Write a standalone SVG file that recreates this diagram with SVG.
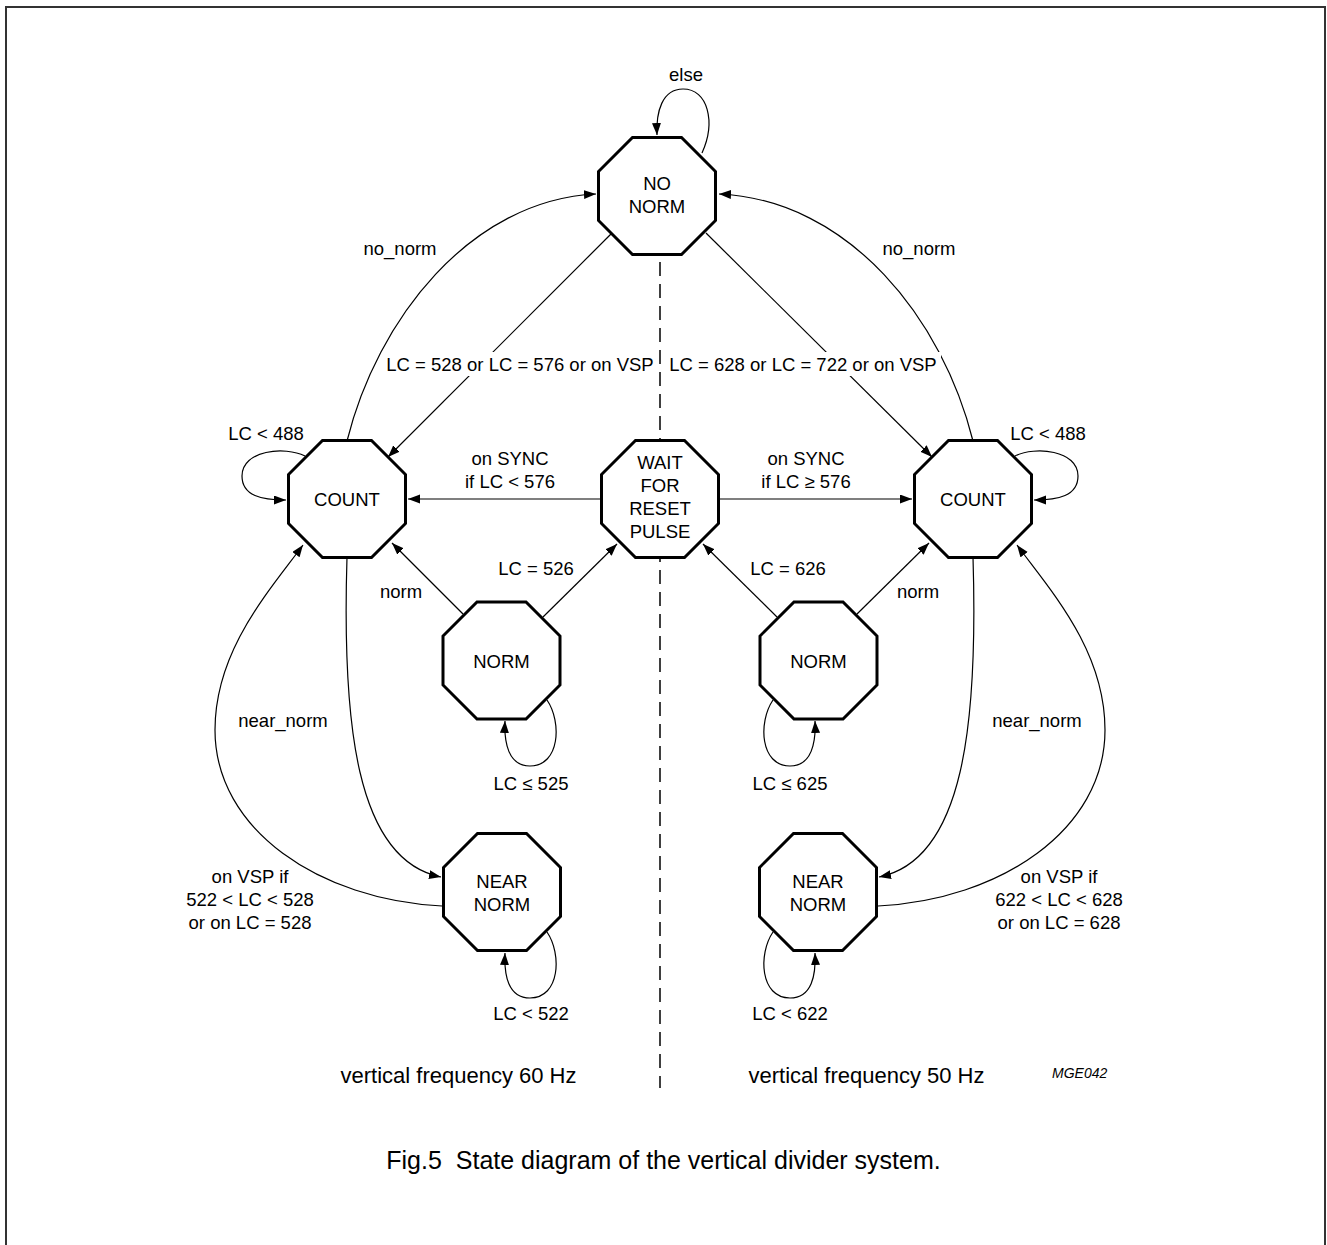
<svg xmlns="http://www.w3.org/2000/svg" width="1327" height="1245" viewBox="0 0 1327 1245">
<defs>
<marker id="ah" markerUnits="userSpaceOnUse" markerWidth="13" markerHeight="10" refX="12" refY="4.5" orient="auto">
<path d="M0,0 L12,4.5 L0,9 z" fill="#000"/>
</marker>
<polygon id="oct" points="-24.5,-58.5 24.5,-58.5 58.5,-24.5 58.5,24.5 24.5,58.5 -24.5,58.5 -58.5,24.5 -58.5,-24.5"/>
</defs>
<style>
.n use{fill:#fff;stroke:#000;stroke-width:3}
text{font-family:"Liberation Sans",Arial,sans-serif;font-size:18.5px;fill:#000;text-anchor:middle}
.c path{fill:none;stroke:#000;stroke-width:1.2;marker-end:url(#ah)}
.bg{fill:#fff}
.big{font-size:22px}
</style>
<rect x="6" y="7" width="1319" height="1260" fill="#fff" stroke="#333" stroke-width="2"/>

<g id="connectors" class="c">
<path d="M702,153 C716,122 708,89 683,89 C662,89 656,112 657,135"/>
<path d="M347,441 C377,320 470,200 596,194"/>
<path d="M973,441 C943,320 850,200 719,194"/>
<path d="M611,234 L388,457"/>
<path d="M706,233 L932,457"/>
<path d="M601,499 L408,499"/>
<path d="M718,499 L912,499"/>
<path d="M463,614 L392,543"/>
<path d="M543,617 L617,544"/>
<path d="M777,617 L703,544"/>
<path d="M857,614 L929,543"/>
<path d="M547,700 C562,722 560,766 530,766 C508,766 504,742 505,721"/>
<path d="M773,700 C758,722 760,766 790,766 C812,766 816,742 815,721"/>
<path d="M347,557 C342,720 355,860 441,877"/>
<path d="M442,906 C320,900 215,830 215,730 C215,650 270,590 303,545"/>
<path d="M973,557 C978,720 965,860 879,877"/>
<path d="M878,906 C1000,900 1105,830 1105,730 C1105,650 1050,590 1017,545"/>
<path d="M547,932 C562,954 560,998 530,998 C508,998 504,975 505,953"/>
<path d="M773,932 C758,954 760,998 790,998 C812,998 816,975 815,953"/>
<path d="M305,456 C285,446 242,450 242,476 C242,496 262,500 286,500"/>
<path d="M1015,456 C1035,446 1078,450 1078,476 C1078,496 1058,500 1034,500"/>
</g>

<rect class="bg" x="383" y="352" width="274" height="24"/>
<rect class="bg" x="666" y="352" width="275" height="24"/>

<line id="divider" x1="660" y1="262" x2="660" y2="1088" stroke="#000" stroke-width="1.5" stroke-dasharray="14 8"/>

<g id="node-nonorm" class="n"><use href="#oct" x="657" y="196"/><text x="657" y="190">NO</text><text x="657" y="213">NORM</text></g>
<g id="node-count-l" class="n"><use href="#oct" x="347" y="499"/><text x="347" y="506">COUNT</text></g>
<g id="node-wait" class="n"><use href="#oct" x="660" y="499"/><text x="660" y="469">WAIT</text><text x="660" y="492">FOR</text><text x="660" y="515">RESET</text><text x="660" y="538">PULSE</text></g>
<g id="node-count-r" class="n"><use href="#oct" x="973" y="499"/><text x="973" y="506">COUNT</text></g>
<g id="node-norm-l" class="n"><use href="#oct" x="501.5" y="660.5"/><text x="501.5" y="668">NORM</text></g>
<g id="node-norm-r" class="n"><use href="#oct" x="818.5" y="660.5"/><text x="818.5" y="668">NORM</text></g>
<g id="node-nearnorm-l" class="n"><use href="#oct" x="502" y="892"/><text x="502" y="888">NEAR</text><text x="502" y="911">NORM</text></g>
<g id="node-nearnorm-r" class="n"><use href="#oct" x="818" y="892"/><text x="818" y="888">NEAR</text><text x="818" y="911">NORM</text></g>

<g id="labels">
<text x="686" y="81">else</text>
<text x="400" y="255">no_norm</text>
<text x="919" y="255">no_norm</text>
<text x="266" y="440">LC &lt; 488</text>
<text x="1048" y="440">LC &lt; 488</text>
<text x="520" y="371">LC = 528 or LC = 576 or on VSP</text>
<text x="803" y="371">LC = 628 or LC = 722 or on VSP</text>
<text x="510" y="465">on SYNC</text>
<text x="510" y="488">if LC &lt; 576</text>
<text x="806" y="465">on SYNC</text>
<text x="806" y="488">if LC ≥ 576</text>
<text x="536" y="575">LC = 526</text>
<text x="401" y="598">norm</text>
<text x="788" y="575">LC = 626</text>
<text x="918" y="598">norm</text>
<text x="531" y="790">LC ≤ 525</text>
<text x="790" y="790">LC ≤ 625</text>
<text x="283" y="727">near_norm</text>
<text x="1037" y="727">near_norm</text>
<text x="250" y="883">on VSP if</text>
<text x="250" y="906">522 &lt; LC &lt; 528</text>
<text x="250" y="929">or on LC = 528</text>
<text x="1059" y="883">on VSP if</text>
<text x="1059" y="906">622 &lt; LC &lt; 628</text>
<text x="1059" y="929">or on LC = 628</text>
<text x="531" y="1020">LC &lt; 522</text>
<text x="790" y="1020">LC &lt; 622</text>
<text class="big" x="458.5" y="1083">vertical frequency 60 Hz</text>
<text class="big" x="866.5" y="1083">vertical frequency 50 Hz</text>
<text x="1052" y="1078" style="font-size:14px;font-style:italic;text-anchor:start">MGE042</text>
<text x="663.5" y="1169" style="font-size:25px;white-space:pre">Fig.5  State diagram of the vertical divider system.</text>
</g>
</svg>
